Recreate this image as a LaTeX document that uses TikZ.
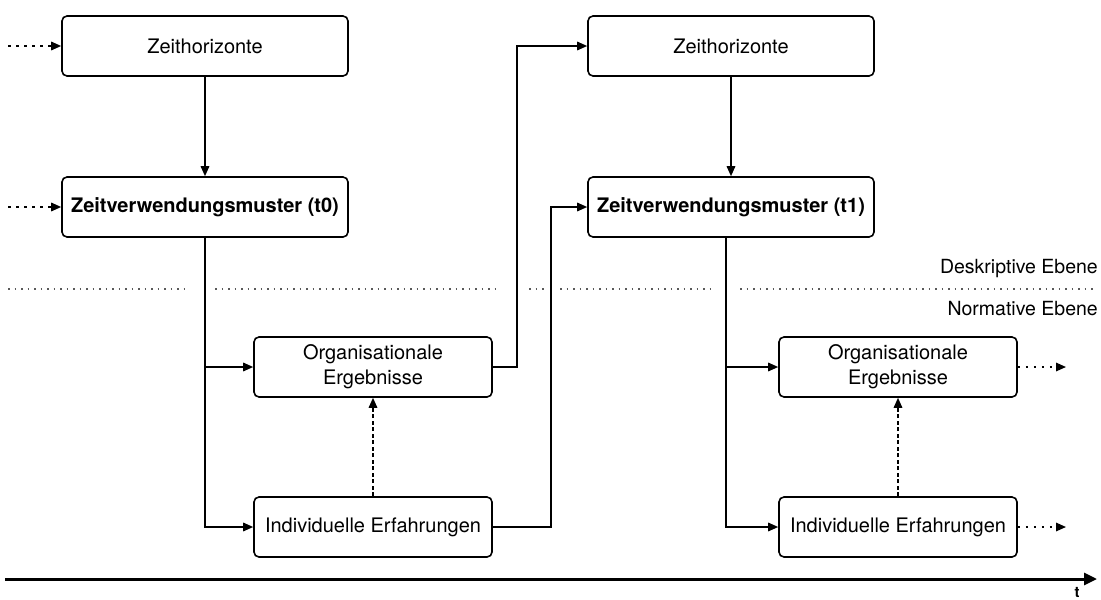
\documentclass[tikz,border=0pt]{standalone}
\usepackage{fontspec}
\setmainfont{TeX Gyre Heros}
\usetikzlibrary{arrows.meta,positioning,calc}
\begin{document}
\begin{tikzpicture}[x=1pt,y=-1pt,
  box/.style={draw, line width=1.6pt, rounded corners=5pt, minimum height=60pt, align=center,
    font=\fontsize{20}{25}\selectfont, inner sep=0pt},
  bigbox/.style={box, minimum width=286pt},
  smallbox/.style={box, minimum width=238pt},
  arr/.style={line width=1.6pt, -{Triangle[length=10pt,width=8.5pt]}},
  dotarr/.style={arr, dash pattern=on 2.5pt off 5.5pt},
  dasharr/.style={arr, dash pattern=on 4pt off 2.5pt},
  sep/.style={line width=1.3pt, draw=black!65, dash pattern=on 1.5pt off 5pt},
  lbl/.style={font=\fontsize{19.5}{24}\selectfont, inner sep=0pt}
]
\useasboundingbox (0,0) rectangle (1101,600);

% nodes
\node[bigbox] (Z1) at (205,46) {Zeithorizonte};
\node[bigbox] (V1) at (205,207) {\bfseries Zeitverwendungsmuster (t0)};
\node[bigbox] (Z2) at (731,46) {Zeithorizonte};
\node[bigbox] (V2) at (731,207) {\bfseries Zeitverwendungsmuster (t1)};
\node[smallbox] (O1) at (373,367) {Organisationale\\Ergebnisse};
\node[smallbox] (I1) at (373,527) {Individuelle Erfahrungen};
\node[smallbox] (O2) at (898,367) {Organisationale\\Ergebnisse};
\node[smallbox] (I2) at (898,527) {Individuelle Erfahrungen};

% level labels
\node[lbl, anchor=east] (desk) at (1098,269) {Deskriptive Ebene};
\node[lbl, anchor=east] (norm) at (1098,309) {Normative Ebene};

% separator (dotted, interrupted at vertical connectors)
\draw[sep] (8,289) -- (190,289);
\draw[sep] (215,289) -- (499,289);
\draw[sep] (529,289) -- (546,289);
\draw[sep] (560,289) -- (716,289);
\draw[sep] (740,289) -- (1095,289);

% incoming dotted arrows
\coordinate (inZ) at (8,46);
\coordinate (inV) at (8,207);
\draw[dotarr] (inZ) -- (Z1.west);
\draw[dotarr] (inV) -- (V1.west);

% left group
\draw[arr] (Z1.south) -- (V1.north);
\draw[arr] (V1.south) |- (O1.west);
\draw[arr] (V1.south) |- (I1.west);
\draw[dasharr] (I1.north) -- (O1.south);

% transitions
\draw[arr] (O1.east) -- ++(24,0) |- (Z2.west);
\draw[arr] (I1.east) -- ++(58,0) |- (V2.west);

% right group
\draw[arr] (Z2.south) -- (V2.north);
\draw[arr] ([xshift=-5pt]V2.south) |- (O2.west);
\draw[arr] ([xshift=-5pt]V2.south) |- (I2.west);
\draw[dasharr] (I2.north) -- (O2.south);

% outgoing dotted arrows
\coordinate (outO) at (1066,367);
\coordinate (outI) at (1066,527);
\draw[dotarr] (O2.east) -- (outO);
\draw[dotarr] (I2.east) -- (outI);

% time axis
\coordinate (t0) at (5,579);
\coordinate (t1) at (1097,579);
\draw[line width=3pt, -{Triangle[length=13pt,width=12pt]}] (t0) -- (t1);
\node[font=\fontsize{15}{18}\selectfont\bfseries, inner sep=0pt] (tl) at (1077,592.5) {t};
\end{tikzpicture}
\end{document}
